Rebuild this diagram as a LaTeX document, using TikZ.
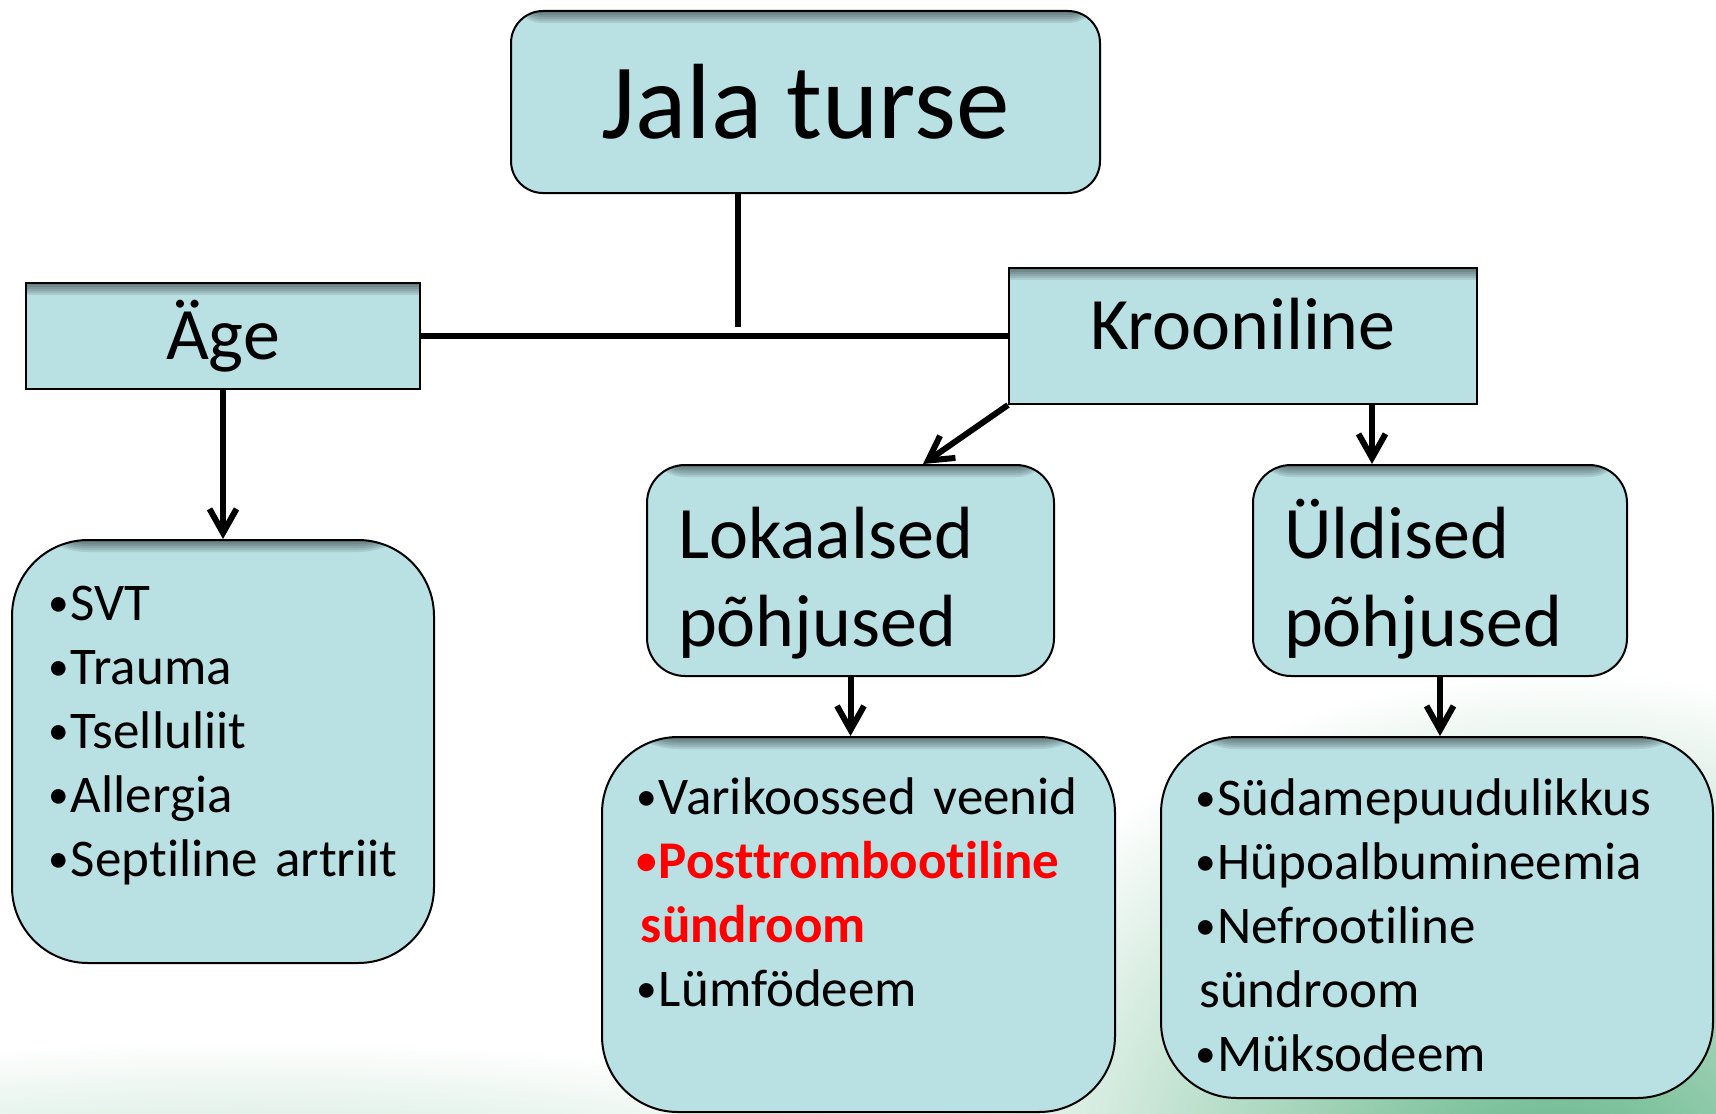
\documentclass[tikz,border=0pt]{standalone}
\usepackage{fontspec}
\setmainfont{Carlito}[Ligatures=NoCommon]
\usetikzlibrary{arrows.meta, positioning}

\definecolor{boxfill}{RGB}{185,224,227}
\definecolor{swirl}{RGB}{96,180,134}

\newcommand{\itm}{\makebox[0.34em][l]{\hspace{-0.08em}\raisebox{0.06em}{\scalebox{0.78}{•}}}}
\newcommand{\hot}[1]{\textcolor{red}{\bfseries #1}}

\tikzset{
  box/.style={draw=black, line width=1pt, fill=boxfill, inner sep=0pt,
    path picture={
      \foreach \d in {1,...,6}
        \fill[black, opacity=0.09]
          (path picture bounding box.north west) rectangle
          ([yshift=-\d pt]path picture bounding box.north east);}},
  headbox/.style={box, rounded corners=16pt, minimum width=294.5pt,
    minimum height=91pt, font=\fontsize{53.5}{64}\selectfont},
  branchbox/.style={box, font=\fontsize{37}{44}\selectfont},
  causebox/.style={box, rounded corners=19pt, minimum height=105.5pt,
    inner xsep=15.5pt, align=left, text height=38pt,
    font=\fontsize{37}{44}\selectfont},
  listbox/.style={box, rounded corners=38pt},
  itemtext/.style={anchor=base west, inner sep=0pt, text width=250pt,
    align=left, font=\fontsize{26.5}{32}\selectfont},
  linkline/.style={line width=3pt},
  arr/.style={linkline, -{Straight Barb[length=12pt, width=13.5pt]}}
}

\begin{document}
\begin{tikzpicture}[x=0.5pt, y=-0.5pt]
  \useasboundingbox (0,0) rectangle (1716,1113);
  % background
  \fill[white] (0,0) rectangle (1716,1113);
  \begin{scope}
    \clip (0,0) rectangle (1716,1113);
    \shade[inner color=swirl!45, outer color=white, opacity=0.8]
      (250,1190) ellipse [x radius=380pt, y radius=75pt];
    \shade[inner color=swirl, outer color=white]
      (1560,1190) ellipse [x radius=320pt, y radius=260pt];
  \end{scope}

  % top levels
  \node[headbox] (jala) at (805.5,102) {Jala turse};
  \node[branchbox, minimum width=197pt, minimum height=53pt]
    (aege) at (223,336) {Äge};
  \node[branchbox, minimum width=234pt, minimum height=68pt,
    text depth=12pt] (kroon) at (1243,336) {Krooniline};

  % causes
  \node[causebox, text width=172.5pt] (lok) at (850.5,570.5)
    {Lokaalsed\\põhjused};
  \node[causebox, text width=156pt] (yld) at (1440,570.5)
    {Üldised\\põhjused};

  % lists
  \node[listbox, minimum width=211pt, minimum height=211.5pt]
    (aegelist) at (223,751.5) {};
  \node[listbox, minimum width=256.5pt, minimum height=187.5pt]
    (loklist) at (858.5,924.5) {};
  \node[listbox, minimum width=276pt, minimum height=180.5pt]
    (yldlist) at (1437,917.5) {};

  \node[itemtext] (aegeitems)
    at ([xshift=20.75pt, yshift=-40.5pt]aegelist.north west)
    {\itm SVT\\ \itm Trauma\\ \itm Tselluliit\\ \itm Allergia\\
     \itm Septiline artriit};
  \node[itemtext] (lokitems)
    at ([xshift=19.75pt, yshift=-39pt]loklist.north west)
    {\itm Varikoossed veenid\\ \hot{\itm Posttrombootiline}\\
     \hot{sündroom}\\ \itm Lümfödeem};
  \node[itemtext] (ylditems)
    at ([xshift=19.5pt, yshift=-39.5pt]yldlist.north west)
    {\itm Südamepuudulikkus\\ \itm Hüpoalbumineemia\\ \itm Nefrootiline\\
     sündroom\\ \itm Müksodeem};

  % connectors
  \coordinate (joint) at (738,327);
  \draw[linkline] (jala.south -| joint) -- (joint);
  \draw[linkline] (aege.east) -- (kroon.west);
  \draw[arr] (aege.south) -- (aegelist.north);
  \draw[arr] (kroon.south west) -- ([xshift=36.25pt]lok.north);
  \draw[arr] ([xshift=64.5pt]kroon.south) -- ([xshift=-34pt]yld.north);
  \draw[arr] (lok.south) -- (lok.south |- loklist.north);
  \draw[arr] (yld.south) -- (yld.south |- yldlist.north);
\end{tikzpicture}
\end{document}
